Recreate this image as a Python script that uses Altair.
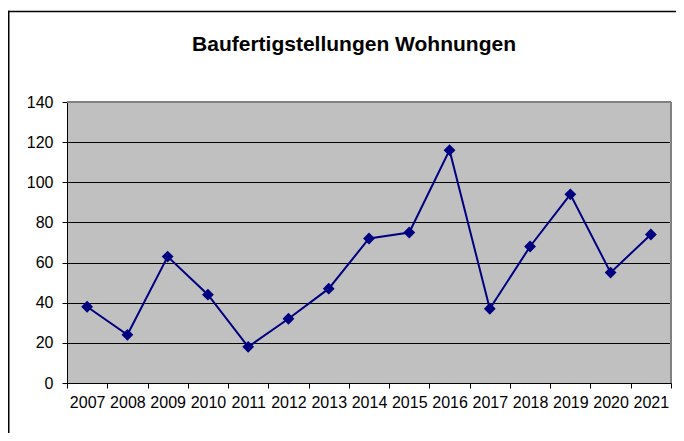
import altair as alt
import pandas as pd

years = [str(y) for y in range(2007, 2022)]
values = [38, 24, 63, 44, 18, 32, 47, 72, 75, 116, 37, 68, 94, 55, 74]
y_ticks = [0, 20, 40, 60, 80, 100, 120, 140]
title_text = "Baufertigstellungen Wohnungen"

df = pd.DataFrame({"year": years, "value": values})
one = pd.DataFrame({"t": [title_text]})

W, H = 604, 281
FONT = "Liberation Sans"

x_enc = alt.X(
    "year:N",
    sort=years,
    bandPosition=0.5,
    scale=alt.Scale(type="band", paddingInner=0, paddingOuter=0),
    axis=alt.Axis(
        title=None, labelAngle=0, tickBand="extent", tickSize=5, tickColor="black",
        domainColor="black", domainWidth=1, labelFont=FONT, labelFontSize=16,
        labelColor="black", labelPadding=6, grid=False, labelFlush=False,
        labelOverlap=False,
    ),
)
y_enc = alt.Y(
    "value:Q",
    scale=alt.Scale(domain=[0, 140], nice=False),
    axis=alt.Axis(
        title=None, values=y_ticks, tickSize=5, tickColor="black",
        domainColor="black", domainWidth=1, labelFont=FONT, labelFontSize=16,
        labelColor="black", labelPadding=9, grid=True, gridColor="black",
        gridWidth=1,
    ),
)

base = alt.Chart(df)
deco = alt.Chart(one)

line = base.mark_line(color="#000080", strokeWidth=2).encode(x=x_enc, y=y_enc)
pts = base.mark_point(shape="diamond", filled=True, size=140, color="#000080", opacity=1).encode(
    x=x_enc, y=y_enc
)

top_border = deco.mark_rule(color="#808080", strokeWidth=2).encode(
    x=alt.value(0), x2=alt.value(W), y=alt.value(0)
)
right_border = deco.mark_rule(color="#808080", strokeWidth=2).encode(
    x=alt.value(W), y=alt.value(0), y2=alt.value(H)
)

outer_top = deco.mark_rule(color="black", strokeWidth=1.5).encode(
    x=alt.value(-59), x2=alt.value(W + 5), y=alt.value(-90.5)
)
outer_left = deco.mark_rule(color="black", strokeWidth=1.5).encode(
    x=alt.value(-58.25), y=alt.value(-91.25), y2=alt.value(H + 50)
)

title = deco.mark_text(
    font=FONT, fontSize=21, fontWeight="bold", color="black",
    align="center", baseline="alphabetic",
).encode(text="t:N", x=alt.value(287), y=alt.value(-51))

chart = (
    alt.layer(top_border, right_border, line, pts, outer_top, outer_left, title)
    .properties(
        width=W, height=H,
        autosize=alt.AutoSizeParams(type="none"),
        padding={"left": 59, "top": 94, "right": 5, "bottom": 50},
        background="white",
    )
    .configure_view(fill="#C0C0C0", stroke=None)
)

chart.save("out.html", embed_options={"renderer": "svg", "actions": False})
